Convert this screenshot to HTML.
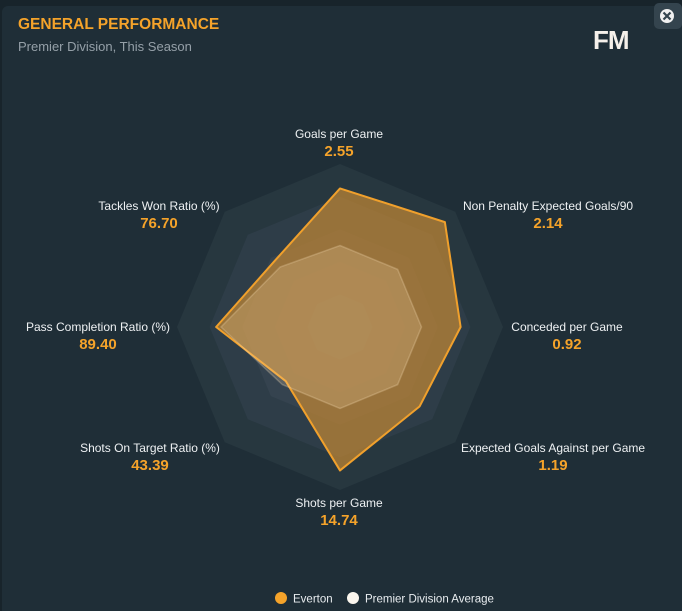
<!DOCTYPE html>
<html><head><meta charset="utf-8">
<style>
html,body{margin:0;padding:0;background:#18242b;}
body{width:682px;height:611px;overflow:hidden;position:relative;font-family:"Liberation Sans",sans-serif;}
#panel{position:absolute;left:2px;top:6px;width:680px;height:605px;background:#1f2e37;border-radius:6px 6px 0 0;}
</style></head><body>
<div id="panel"></div>
<svg id="chart" width="682" height="611" style="position:absolute;left:0;top:0">
<text x="18" y="29" fill="#f5a32a" font-size="15.5" font-weight="bold">GENERAL PERFORMANCE</text>
<text x="18" y="51" fill="#95a0a8" font-size="13">Premier Division, This Season</text>
<text x="593" y="49" fill="#f5f0ea" font-size="26" font-weight="bold" letter-spacing="-1">FM</text>
<g>
<rect x="654" y="3" width="28" height="26" rx="5" fill="#34444e"/>
<circle cx="667" cy="16" r="7" fill="#f0f0f0"/>
<path d="M663.5 12.5L670.5 19.5M670.5 12.5L663.5 19.5" stroke="#34444e" stroke-width="2.2"/>
</g>
<g id="rings"></g>
<g id="series"></g>
<g id="labels"></g>
<g>
<g>
<circle cx="281" cy="598" r="6" fill="#f5a32a"/>
<text x="293" y="602.5" fill="#e8ecef" font-size="11.5">Everton</text></g>
<g>
<circle cx="353" cy="598" r="6" fill="#fbf6ee"/>
<text x="365" y="602.5" fill="#e8ecef" font-size="11.5">Premier Division Average</text></g>
</g>
</svg>
<script>
const categories=["Goals per Game","Non Penalty Expected Goals/90","Conceded per Game","Expected Goals Against per Game","Shots per Game","Shots On Target Ratio (%)","Pass Completion Ratio (%)","Tackles Won Ratio (%)"];
const valueLabels=["2.55","2.14","0.92","1.19","14.74","43.39","89.40","76.70"];
const evertonValues=[0.85,0.91,0.74,0.69,0.88,0.47,0.76,0.57];
const averageValues=[0.50,0.50,0.50,0.50,0.50,0.50,0.73,0.52];
const ringLevels=[1,0.8,0.6,0.4,0.2];

const cx=340,cy=327,R=163,NS="http://www.w3.org/2000/svg";
function pt(i,v){const a=-Math.PI/2+i*2*Math.PI/categories.length;return [cx+Math.cos(a)*R*v,cy+Math.sin(a)*R*v];}
function poly(vals){return vals.map((v,i)=>pt(i,v).join(",")).join(" ");}
const ringFills=["#27373f","#2e3d48","#35434f","#3a4755","#3e4b59"];
const rings=document.getElementById("rings");
ringLevels.forEach((lv,k)=>{
  const p=document.createElementNS(NS,"polygon");
  p.setAttribute("points",poly(categories.map(()=>lv)));
  p.setAttribute("fill",ringFills[k]);
  
  
  rings.appendChild(p);
});
const s=document.getElementById("series");
const ev=document.createElementNS(NS,"polygon");
ev.setAttribute("points",poly(evertonValues));
ev.setAttribute("fill","rgba(192,134,52,0.72)");
ev.setAttribute("stroke","#f0a02c");
ev.setAttribute("stroke-width","2");
ev.setAttribute("stroke-linejoin","round");


s.appendChild(ev);
const av=document.createElementNS(NS,"polygon");
av.setAttribute("points",poly(averageValues));
av.setAttribute("fill","rgba(255,225,180,0.2)");
av.setAttribute("stroke","rgba(255,230,190,0.25)");
av.setAttribute("stroke-width","1.5");


s.appendChild(av);
const labelPos=[[339,134],[548,206],[567,327],[553,448],[339,503],[150,448],[98,327],[159,206]];
const lg=document.getElementById("labels");
categories.forEach((c,i)=>{
  const t=document.createElementNS(NS,"text");
  t.setAttribute("x",labelPos[i][0]);t.setAttribute("y",labelPos[i][1]+4);
  t.setAttribute("text-anchor","middle");t.setAttribute("fill","#eef1f3");t.setAttribute("font-size","12");
  t.textContent=c;
  
  
  lg.appendChild(t);
  const v=document.createElementNS(NS,"text");
  v.setAttribute("x",labelPos[i][0]);v.setAttribute("y",labelPos[i][1]+22);
  v.setAttribute("text-anchor","middle");v.setAttribute("fill","#f5a32a");v.setAttribute("font-size","15");v.setAttribute("font-weight","bold");
  v.textContent=valueLabels[i];
  
  
  lg.appendChild(v);
});
</script>
</body></html>
